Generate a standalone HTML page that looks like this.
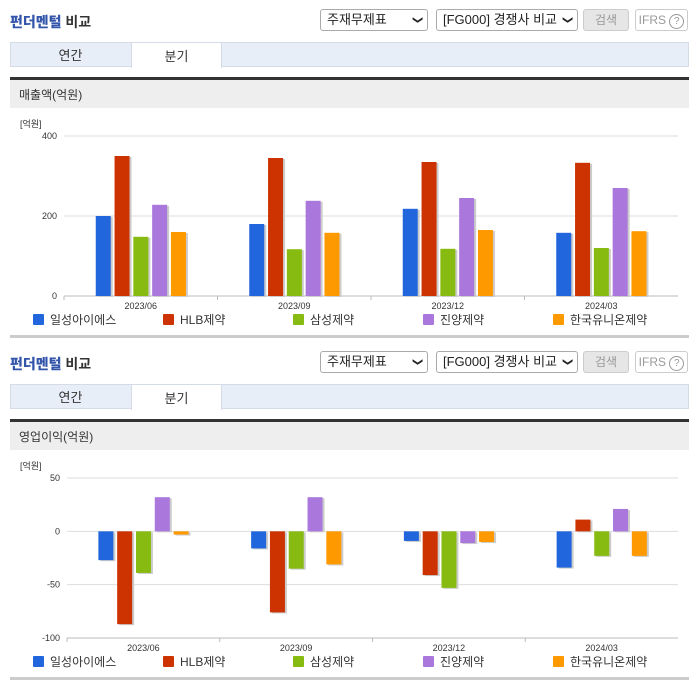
<!DOCTYPE html>
<html><head><meta charset="utf-8"><style>
body{margin:0;width:696px;height:684px;background:#fff;font-family:"Liberation Sans","Noto Sans CJK KR",sans-serif;position:relative;overflow:hidden}
.abs{position:absolute}
.title{font-size:14px;color:#333;font-weight:bold}
.title b{color:#3355aa}
.sel{border:1px solid #aaa;border-radius:3px;height:22px;font-size:13px;color:#222;box-sizing:border-box;line-height:20px;padding-left:6px;background:#fff}
.sel span{position:absolute;right:6px;top:0;font-size:10px}
.btn{border:1px solid #ccc;border-radius:3px;height:22px;box-sizing:border-box;font-size:12px;color:#999;text-align:center;line-height:20px}
.tabs{left:10px;width:679px;height:25px;background:#e8eef7;border:1px solid #d5dce8;box-sizing:border-box}
.tab{height:26px;font-size:13px;color:#333;text-align:center;line-height:27px}
.hdr{left:10px;width:679px;height:31px;background:#eeeeee;border-top:3px solid #333;font-size:12px;color:#333;line-height:30px;padding-left:9px;box-sizing:border-box}
.foot{left:10px;width:679px;height:3px;background:#ccc}
</style></head><body>
<svg id="svg" class="abs" style="left:0;top:0" width="696" height="684"></svg>
<script>
const categories=["2023/06","2023/09","2023/12","2024/03"];
const seriesNames=["일성아이에스","HLB제약","삼성제약","진양제약","한국유니온제약"];
const colors=["#2266dd","#cc3300","#88bb11","#aa77dd","#ff9900"];
const sales1=[200,180,218,158];
const sales2=[350,345,335,333];
const sales3=[148,117,118,120];
const sales4=[228,238,245,270];
const sales5=[160,158,165,162];
const op1=[-27,-16,-9,-34];
const op2=[-87,-76,-41,11];
const op3=[-39,-35,-53,-23];
const op4=[32,32,-11,21];
const op5=[-3,-31,-10,-23];
const salesTicks=[0,200,400];
const opTicks=[-100,-50,0,50];

const NS="http://www.w3.org/2000/svg";
const svg=document.getElementById('svg');
function mk(tag,attrs,text){const e=document.createElementNS(NS,tag);for(const k in attrs)e.setAttribute(k,attrs[k]);if(text!==undefined)e.textContent=text;svg.appendChild(e);return e;}
function html(cls,style,text,name,inter){const d=document.createElement('div');d.className='abs '+cls;d.style.cssText=style;d.innerHTML=text;


document.body.appendChild(d);return d;}

function section(oy,hdrText,series,ticks,ymin,ymax,yTop,yBot,plotL,prefix){
  html('title','left:10px;top:'+(12+oy)+'px','<b>펀더멘털</b> 비교',prefix+'-section-title',false);
  html('sel','left:320px;top:'+(9+oy)+'px;width:108px','주재무제표<span>&#10095;</span>',prefix+'-statement-select',true).querySelector('span').style.transform='rotate(90deg)';
  html('sel','left:436px;top:'+(9+oy)+'px;width:142px','[FG000] 경쟁사 비교<span>&#10095;</span>',prefix+'-peer-select',true).querySelector('span').style.transform='rotate(90deg)';
  html('btn','left:583px;top:'+(9+oy)+'px;width:46px;background:#e6e6e6','검색',prefix+'-search-button',true);
  html('btn','left:635px;top:'+(9+oy)+'px;width:53px','IFRS <span style="border:1px solid #999;border-radius:50%;display:inline-block;width:13px;height:13px;line-height:13px;font-size:10px">?</span>',prefix+'-ifrs-button',true);
  html('tabs','top:'+(42+oy)+'px','',prefix+'-tab-bar',false);
  html('tab','left:10px;top:'+(42+oy)+'px;width:121px','연간',prefix+'-annual-tab',true);
  html('tab','left:131px;top:'+(42+oy)+'px;width:91px;background:#fff;border:1px solid #d5dce8;border-bottom:none;box-sizing:border-box','분기',prefix+'-quarter-tab',true);
  html('hdr','top:'+(77+oy)+'px',hdrText,prefix+'-chart-header',false);
  html('foot','top:'+(335+oy)+'px','',prefix+'-footer-line',false);
  const plotR=678;
  const y=v=>yBot-(v-ymin)/(ymax-ymin)*(yBot-yTop);
  let t=mk('text',{x:20,y:yTop-9,'font-size':9,fill:'#333'},'[억원]');
  
  
  ticks.forEach(v=>{
    let l=mk('line',{x1:plotL,x2:plotR,y1:y(v),y2:y(v),stroke:'#ddd'});
    
    
    let tx=mk('text',{x:plotL-7,y:y(v)+3,'font-size':9,fill:'#333','text-anchor':'end'},v);
    
    
  });
  let ax=mk('line',{x1:plotL,x2:plotR,y1:yBot,y2:yBot,stroke:'#bbb'});
  
  
  const cw=(plotR-plotL)/categories.length;
  const zero=y(Math.max(0,ymin));
  categories.forEach((c,i)=>{
    const cx=plotL+cw*(i+0.5);
    let tk=mk('line',{x1:plotL+cw*i,x2:plotL+cw*i,y1:yBot,y2:yBot+4,stroke:'#bbb'});
    
    
    let lb=mk('text',{x:cx,y:yBot+13,'font-size':9,fill:'#333','text-anchor':'middle'},c);
    
    
    series.forEach((s,j)=>{
      const v=s[i];const bx=cx-45+j*18.8;
      const top=Math.min(y(v),zero),h=Math.abs(y(v)-zero);
      let sh=mk('rect',{x:bx+2,y:top+1,width:15,height:h,fill:'#ccc'});
      
      
      let b=mk('rect',{x:bx,y:top,width:15,height:h,fill:colors[j]});
      
      
    });
  });
  seriesNames.forEach((n,j)=>{
    const lx=33+j*130, ly=314+oy;
    let r=mk('rect',{x:lx,y:ly,width:11,height:11,fill:colors[j],rx:1});
    
    
    let tx=mk('text',{x:lx+17,y:ly+10,'font-size':12,fill:'#333'},n);
    
    
  });
}
section(0,'매출액(억원)',[sales1,sales2,sales3,sales4,sales5],salesTicks,0,400,136,296,64,'sales');
section(342,'영업이익(억원)',[op1,op2,op3,op4,op5],opTicks,-100,50,478,638,67,'op');
</script>
</body></html>
